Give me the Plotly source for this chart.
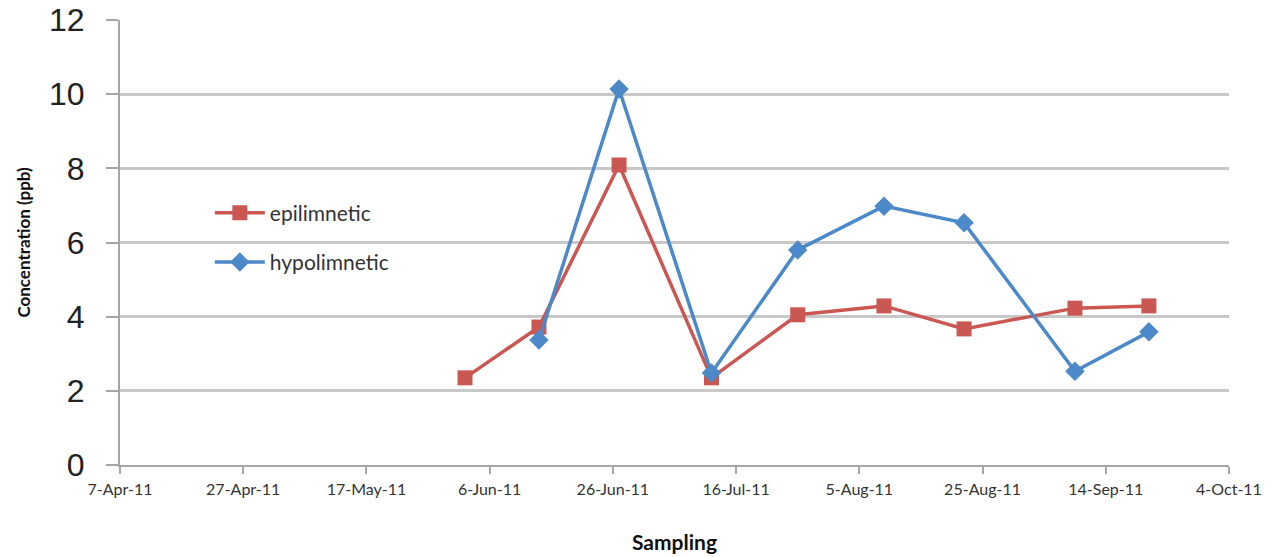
import plotly.graph_objects as go

epi_dates = ["2011-06-02", "2011-06-14", "2011-06-27", "2011-07-12", "2011-07-26",
             "2011-08-09", "2011-08-22", "2011-09-09", "2011-09-21"]
epi_values = [2.35, 3.72, 8.09, 2.35, 4.05, 4.29, 3.67, 4.23, 4.29]

hypo_dates = ["2011-06-14", "2011-06-27", "2011-07-12", "2011-07-26",
              "2011-08-09", "2011-08-22", "2011-09-09", "2011-09-21"]
hypo_values = [3.37, 10.14, 2.48, 5.80, 6.98, 6.53, 2.53, 3.59]

tick_dates = ["2011-04-07", "2011-04-27", "2011-05-17", "2011-06-06", "2011-06-26",
              "2011-07-16", "2011-08-05", "2011-08-25", "2011-09-14", "2011-10-04"]
tick_labels = ["7-Apr-11", "27-Apr-11", "17-May-11", "6-Jun-11", "26-Jun-11",
               "16-Jul-11", "5-Aug-11", "25-Aug-11", "14-Sep-11", "4-Oct-11"]

RED = "#CB5752"
BLUE = "#4C89C8"

fig = go.Figure()
fig.add_trace(go.Scatter(
    x=epi_dates, y=epi_values, name="epilimnetic", mode="lines+markers",
    line=dict(color=RED, width=3.5),
    marker=dict(symbol="square", size=15, color=RED),
    legendgroup="a",
))
fig.add_trace(go.Scatter(
    x=hypo_dates, y=hypo_values, name="hypolimnetic", mode="lines+markers",
    line=dict(color=BLUE, width=3.5),
    marker=dict(symbol="diamond", size=15, color=BLUE),
    legendgroup="b",
))

fig.update_layout(
    width=1288, height=557,
    margin=dict(l=120, r=59, t=20, b=92),
    paper_bgcolor="white", plot_bgcolor="white",
    showlegend=True,
    legend=dict(
        x=0.081, y=0.511, xanchor="left", yanchor="middle",
        font=dict(family="Lato, sans-serif", size=21, color="#333333"),
        bgcolor="rgba(0,0,0,0)", tracegroupgap=19,
        traceorder="grouped", itemwidth=50,
    ),
    xaxis=dict(
        type="date", automargin=False,
        range=["2011-04-07", "2011-10-04"],
        tickvals=tick_dates, ticktext=tick_labels,
        showgrid=False, zeroline=False,
        showline=True, linecolor="#A6A6A6", linewidth=2,
        ticks="outside", ticklen=7, tickwidth=2, tickcolor="#A6A6A6",
        ticklabelstandoff=2,
        tickfont=dict(family="Lato, sans-serif", size=16, color="#333333"),
        title=dict(text="<b>Sampling</b>", standoff=38,
                   font=dict(family="Lato, sans-serif", size=21, color="#111111")),
    ),
    yaxis=dict(
        range=[0, 12], tickvals=[0, 2, 4, 6, 8, 10, 12], automargin=False,
        showgrid=True, gridcolor="#C8C8C8", gridwidth=2.5,
        zeroline=False,
        showline=True, linecolor="#A6A6A6", linewidth=2,
        ticks="outside", ticklen=12, tickwidth=2, tickcolor="#A6A6A6",
        ticklabelstandoff=15,
        tickfont=dict(family="Liberation Sans, Arial, sans-serif", size=32, color="#222222"),
        title=dict(text="<b>Concentration (ppb)</b>", standoff=14,
                   font=dict(family="Lato, sans-serif", size=17, color="#111111")),
    ),
)

fig.write_html("out.html")
